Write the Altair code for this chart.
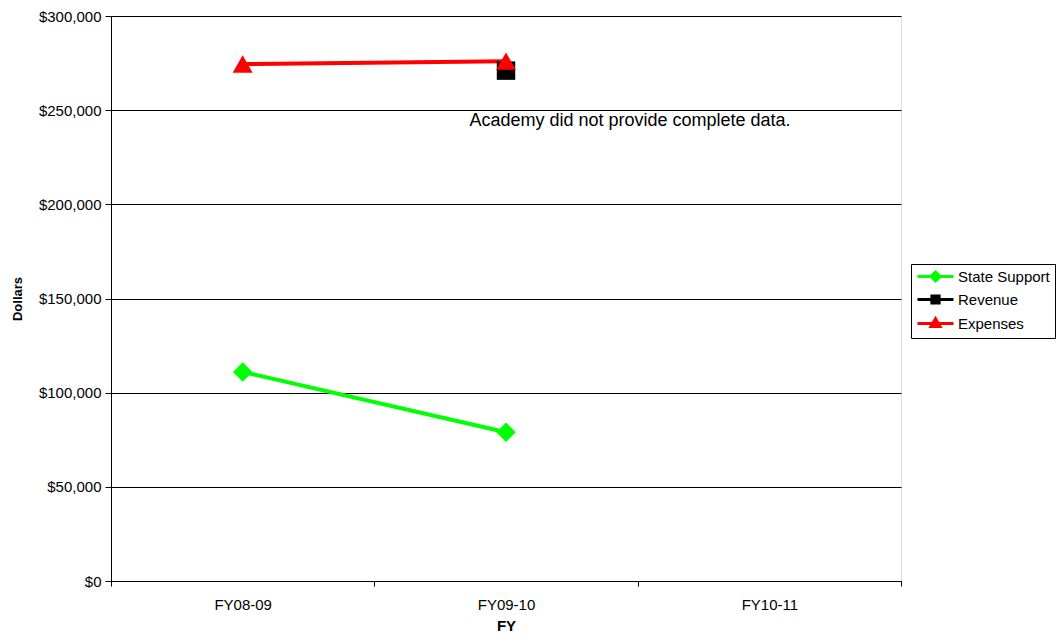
import altair as alt
import pandas as pd

# Fiscal years shown on the x axis
years = ["FY08-09", "FY09-10", "FY10-11"]

# Series values (dollars); None where no figure was reported
state_support = [111000, 79000, None]
revenue = [None, 271000, None]
expenses = [274500, 276000, None]

series_names = ["State Support", "Revenue", "Expenses"]
series_colors = ["#00FF00", "#000000", "#FF0000"]
series_shapes = ["diamond", "square", "triangle-up"]
series_sizes = [380, 340, 400]

# Legend glyphs: a short line with the series marker in the middle
legend_paths = [
    "M-3,0H3M0,-0.75L0.75,0L0,0.75L-0.75,0Z",
    "M-3,0H3M-0.6,-0.6H0.6V0.6H-0.6Z",
    "M-3,0H3M0,-0.8L0.75,0.5L-0.75,0.5Z",
]

rows = []
for name, col, vals, shp, sz in zip(series_names, series_colors,
                                    [state_support, revenue, expenses],
                                    series_shapes, series_sizes):
    for yr, v in zip(years, vals):
        if v is not None:
            rows.append({"year": yr, "value": v, "series": name, "hex": col,
                         "shape": shp, "size": sz})
df = pd.DataFrame(rows)

x_enc = alt.X(
    "year:N",
    scale=alt.Scale(domain=years, paddingInner=0, paddingOuter=0),
    axis=alt.Axis(
        title="FY",
        titleFontWeight="bold",
        titleFontSize=15,
        titlePadding=6,
        labelAngle=0,
        labelFontSize=15,
        labelPadding=11,
        tickBand="extent",
        tickSize=5,
        tickColor="black",
        domainColor="black",
        grid=False,
    ),
)
y_enc = alt.Y(
    "value:Q",
    scale=alt.Scale(domain=[0, 300000], nice=False),
    axis=alt.Axis(
        title="Dollars",
        titleFontWeight="bold",
        titleFontSize=13,
        titlePadding=14,
        format="$,.0f",
        values=[0, 50000, 100000, 150000, 200000, 250000, 300000],
        labelFontSize=15,
        labelPadding=4,
        tickSize=6,
        tickColor="black",
        domainColor="black",
        gridColor="black",
        gridOpacity=1,
    ),
)

lines = alt.Chart(df).mark_line(strokeWidth=4).encode(
    x=x_enc,
    y=y_enc,
    color=alt.Color("hex:N", scale=None),
    detail="series:N",
)

points = alt.Chart(df).mark_point(filled=True, opacity=1).encode(
    x=x_enc,
    y=y_enc,
    color=alt.Color("hex:N", scale=None),
    shape=alt.Shape("shape:N", scale=None),
    size=alt.Size("size:Q", scale=None),
)

series_scale = alt.Scale(domain=series_names, range=series_colors)
legend_def = alt.Legend(
    title=None,
    orient="none",
    legendX=800,
    legendY=248,
    strokeColor="black",
    fillColor="white",
    padding=5,
    labelFontSize=15,
    labelColor="black",
    labelOffset=15,
    rowPadding=2,
    symbolSize=144,
    symbolOffset=12,
    symbolStrokeWidth=3,
    symbolOpacity=1,
)

# Invisible layer that only supplies the legend (line + marker glyphs)
legend_layer = alt.Chart(df).mark_point(opacity=0).encode(
    x=x_enc,
    y=y_enc,
    fill=alt.Fill("series:N", scale=series_scale, legend=legend_def),
    stroke=alt.Stroke("series:N", scale=series_scale, legend=legend_def),
    shape=alt.Shape("series:N", scale=alt.Scale(domain=series_names, range=legend_paths),
                    legend=legend_def),
)

note = alt.Chart(pd.DataFrame({"t": ["Academy did not provide complete data."]})).mark_text(
    fontSize=18, align="center", baseline="middle", color="black", font="Liberation Sans"
).encode(text="t:N", x=alt.value(519), y=alt.value(105))

chart = alt.layer(lines, legend_layer, points, note).properties(
    width=790,
    height=565,
    autosize=alt.AutoSizeParams(type="none"),
    padding={"left": 111, "top": 16, "right": 157, "bottom": 63},
    background="white",
).configure_view(
    stroke="#808080", strokeWidth=1.5
).configure(
    font="Liberation Sans"
).configure_axis(
    labelColor="black", titleColor="black", labelFont="Liberation Sans", titleFont="Liberation Sans"
).configure_legend(
    labelFont="Liberation Sans"
)

chart.save("out.html", embed_options={"renderer": "svg", "actions": False})
